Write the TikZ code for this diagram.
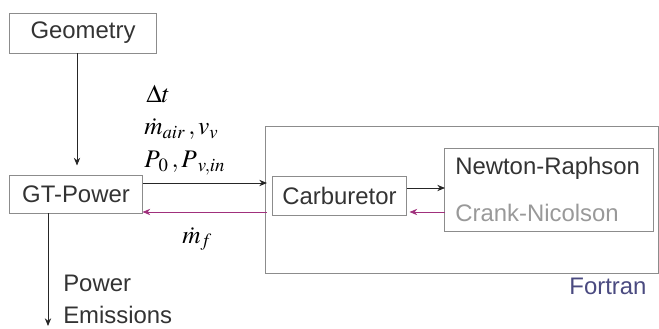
\documentclass[tikz,border=0pt]{standalone}
\usepackage{mathptmx}
\usepackage{fontspec}
\setmainfont{Liberation Sans}
\usepackage{tikz}
\usetikzlibrary{shapes,arrows,arrows.meta,positioning,calc}

\definecolor{boxgray}{HTML}{8C8C8C}
\definecolor{backpink}{HTML}{A0307C}
\definecolor{fortblue}{HTML}{4A4A80}

\begin{document}
\begin{tikzpicture}[x=0.025cm, y=-0.025cm,
    box/.style={rectangle, draw=boxgray, line width=0.7pt, inner sep=0pt,
                text=black!80, font=\fontsize{17}{20}\selectfont},
    lbl/.style={font=\fontsize{17}{20}\selectfont, text=black!80, inner sep=0pt},
    sym/.style={font=\fontsize{18}{22}\selectfont, inner sep=0pt, anchor=west},
    arrow/.style={-{Stealth[length=5.5pt,width=4.5pt]}, line width=0.6pt, color=black!85},
    back/.style={-{Stealth[length=5.5pt,width=4.5pt]}, line width=0.6pt, color=backpink}
]
\useasboundingbox (0,0) rectangle (659,329);

% Outer Fortran block
\node[box, minimum width=9.8cm, minimum height=3.65cm] (fortran) at (462,200) {};
\node[lbl, text=fortblue] (fortlbl) at (608,286) {Fortran};

% Blocks
\node[box, minimum width=3.65cm, minimum height=1cm] (geom) at (83,33) {Geometry};
\node[box, minimum width=3.3cm, minimum height=0.95cm] (gtp) at (76,194) {GT-Power};
\node[box, minimum width=3.325cm, minimum height=0.975cm] (carb) at (339.5,195.5) {Carburetor};
\node[box, minimum width=5.2cm, minimum height=2.05cm] (newton) at (549,190) {};
\node[lbl, anchor=west] (nr) at (455,168) {Newton-Raphson};
\node[lbl, anchor=west, text=black!40] (cn) at (455,213) {Crank-Nicolson};

% Exchanged quantities
\node[sym] (dt) at (146,94) {$\Delta t$};
\node[sym] (mair) at (144,129) {$\dot{m}_{air}\,,v_{v}$};
\node[sym] (pres) at (144,163) {$P_{\,0}\,,P_{\;v,in}$};
\node[sym] (mf) at (182,239) {$\dot{m}_{f}$};

% Outputs
\node[lbl, anchor=west] (pow) at (63,283) {Power};
\node[lbl, anchor=west] (emi) at (63,315) {Emissions};

% Connections
\coordinate (fin) at (267,183);
\coordinate (fout) at (267,212);
\coordinate (nin) at (445,188);
\coordinate (nout) at (445,212);
\coordinate (out) at (48,326);
\draw[arrow] (geom.south -| 77,0) -- ($(gtp.north -| 77,0)+(0,-9)$);
\draw[arrow] (gtp.east |- fin) -- (fin);
\draw[back] (fout) -- (gtp.east |- fout);
\draw[arrow] (carb.east |- nin) -- (nin);
\draw[back] (nout) -- ($(carb.east |- nout)+(3,0)$);
\draw[arrow] (gtp.south -| out) -- (out);

\end{tikzpicture}
\end{document}
